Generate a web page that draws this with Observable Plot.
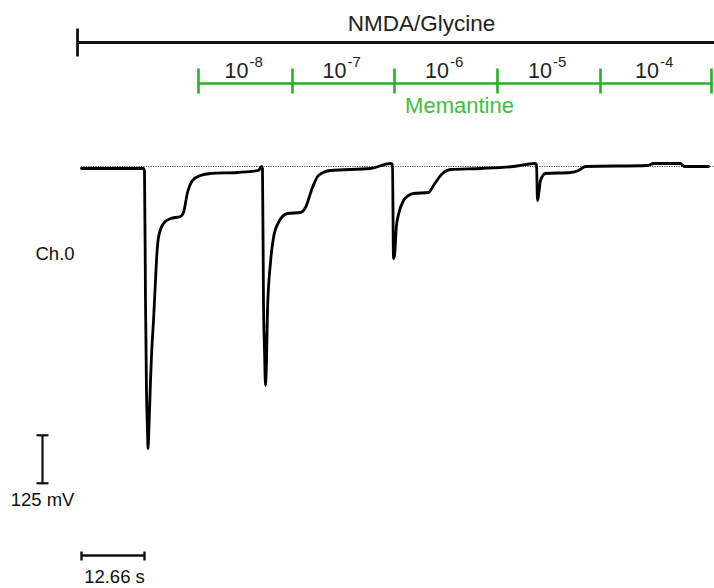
<!DOCTYPE html>
<html>
<head>
<meta charset="utf-8">
<script src="https://cdn.jsdelivr.net/npm/d3@7"></script>
<script src="https://cdn.jsdelivr.net/npm/@observablehq/plot@0.6"></script>
<style>
  html, body { margin: 0; padding: 0; background: #fff; }
  #chart { width: 714px; height: 588px; }
</style>
</head>
<body>
<div id="chart"></div>
<script>
// ---- Data (time in s, current trace in mV) ----
const traceTime = [0.00, 5.83, 12.46, 12.66, 12.86, 13.06, 13.26, 13.37, 13.46, 13.67, 13.87, 14.07, 14.47, 14.87, 15.07, 15.47, 16.48, 17.89, 19.90, 20.50, 21.30, 22.31, 23.91, 25.92, 31.35, 35.57, 36.17, 36.37, 36.57, 36.78, 36.98, 37.18, 37.38, 37.98, 38.59, 39.59, 41.40, 44.01, 45.01, 46.42, 47.63, 50.04, 58.08, 62.10, 62.50, 62.70, 62.90, 63.30, 63.71, 64.71, 65.72, 66.72, 69.73, 70.74, 72.55, 74.16, 80.18, 86.82, 91.04, 91.44, 91.64, 91.84, 92.24, 93.25, 98.27, 99.88, 101.29, 113.75, 114.95, 120.38, 121.18, 126.00];
const traceValue = [-5.2, -5.2, -5.2, -10.4, -348.5, -583.3, -687.5, -734.4, -713.5, -635.4, -557.3, -492.2, -401.0, -296.9, -244.8, -184.9, -148.4, -135.4, -130.2, -119.8, -67.7, -36.5, -23.4, -18.2, -15.6, -10.4, 0, -5.2, -348.5, -479.2, -570.3, -505.2, -375.0, -250.0, -184.9, -145.8, -122.4, -119.8, -106.8, -54.7, -23.4, -10.4, -5.2, 7.8, 5.2, -239.6, -231.8, -153.6, -125.0, -88.5, -75.5, -70.3, -67.7, -49.5, -18.2, -7.8, -5.2, 0, 7.8, 5.2, -88.5, -75.5, -36.5, -18.2, -15.6, -10.4, 0, 2.6, 7.8, 7.8, 0, 0];

// Memantine concentration steps (boundaries in s) and labels
const memBounds = [23.51, 42.40, 62.90, 83.60, 104.30, 126.61];
const memExponents = ["-8", "-7", "-6", "-5", "-4"];
// NMDA/Glycine application period (s)
const nmdaPeriod = [-0.80, 128.0];
// Scale bars
const scaleBarVoltage = 125;   // mV
const scaleBarTime = 12.66;    // s

// ---- Layout ----
const W = 714, H = 588;
const X_DOMAIN = [-81 / 4.976, (W - 81) / 4.976];
const Y_DOMAIN = [-(H - 166) / 0.384, 166 / 0.384];
const xS = Plot.scale({x: {domain: X_DOMAIN, range: [0, W]}});
const yS = Plot.scale({y: {domain: Y_DOMAIN, range: [H, 0]}});
const px = v => xS.invert(v);
const py = v => yS.invert(v);

const trace = traceTime.map((t, i) => ({t, v: traceValue[i]}));
const segs = memExponents.map((e, i) => ({
  a: memBounds[i], b: memBounds[i + 1], mid: (memBounds[i] + memBounds[i + 1]) / 2, e
}));

const GREEN = "#25b225";
const GREEN_TEXT = "#3ec03e";
const FONT = "Liberation Sans, Arial, sans-serif";

// scale bar positions
const vbarX = px(42);
const vbarTop = -700, vbarBot = vbarTop - scaleBarVoltage;
const hbarY = py(555);

const chart = Plot.plot({
  width: W,
  height: H,
  margin: 0,
  style: {fontFamily: FONT, background: "#fff", overflow: "visible"},
  x: {domain: X_DOMAIN, axis: null},
  y: {domain: Y_DOMAIN, axis: null},
  marks: [
    // NMDA/Glycine bar
    Plot.link([nmdaPeriod], {x1: d => d[0], x2: d => d[1], y1: py(42), y2: py(42), stroke: "#111", strokeWidth: 2.8}),
    Plot.link([nmdaPeriod[0]], {x1: d => d, x2: d => d, y1: py(28), y2: py(56), stroke: "#111", strokeWidth: 2.8}),
    Plot.text(["NMDA/Glycine"], {x: px(421), y: py(23), text: d => d, fontSize: 22.5, fill: "#222"}),
    // Memantine bar
    Plot.link([memBounds], {x1: d => d[0], x2: d => d[d.length - 1], y1: py(83), y2: py(83), stroke: GREEN, strokeWidth: 2.6}),
    Plot.link(memBounds, {x1: d => d, x2: d => d, y1: py(68), y2: py(93), stroke: GREEN, strokeWidth: 2.6}),
    Plot.text(segs, {x: "mid", y: py(71), text: () => "10", textAnchor: "end", dx: 3, fontSize: 21.5, fill: "#222"}),
    Plot.text(segs, {x: "mid", y: py(62), text: "e", textAnchor: "start", dx: 4, fontSize: 15, fill: "#222"}),
    Plot.text(["Memantine"], {x: px(459), y: py(105), text: d => d, fontSize: 22, fill: GREEN_TEXT}),
    // baseline
    Plot.ruleY([0], {x1: 0, x2: X_DOMAIN[1], stroke: "#444", strokeWidth: 1, strokeDasharray: "1.2,1.2"}),
    // trace
    Plot.line(trace, {x: "t", y: "v", stroke: "#000", strokeWidth: 2.8, strokeLinejoin: "round", strokeLinecap: "round", curve: "monotone-x"}),
    // channel label
    Plot.text(["Ch.0"], {x: px(35), y: py(254), text: d => d, textAnchor: "start", fontSize: 18.5, fill: "#111"}),
    // vertical scale bar
    Plot.link([0], {x1: vbarX, x2: vbarX, y1: vbarTop, y2: vbarBot, stroke: "#111", strokeWidth: 2.2}),
    Plot.link([vbarTop, vbarBot], {x1: px(36), x2: px(48), y1: d => d, y2: d => d, stroke: "#111", strokeWidth: 2.2}),
    Plot.text([`${scaleBarVoltage} mV`], {x: px(42), y: py(500), text: d => d, fontSize: 18.5, fill: "#111"}),
    // horizontal scale bar
    Plot.link([0], {x1: 0, x2: scaleBarTime, y1: hbarY, y2: hbarY, stroke: "#111", strokeWidth: 2.4}),
    Plot.link([0, scaleBarTime], {x1: d => d, x2: d => d, y1: py(551), y2: py(560), stroke: "#111", strokeWidth: 2.4}),
    Plot.text([`${scaleBarTime} s`], {x: px(114), y: py(577), text: d => d, fontSize: 18.5, fill: "#111"})
  ]
});
document.getElementById("chart").appendChild(chart);
</script>
</body>
</html>
